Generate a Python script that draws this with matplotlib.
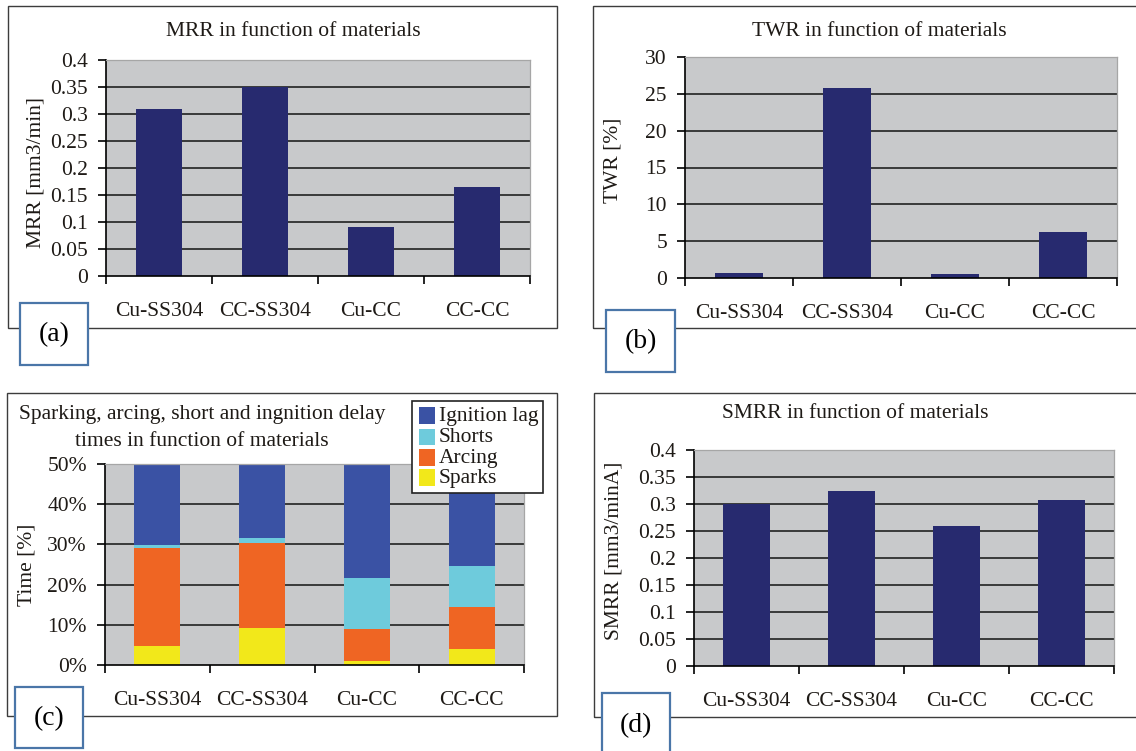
import matplotlib
matplotlib.use("Agg")
import matplotlib.pyplot as plt
from matplotlib.patches import Rectangle
from matplotlib.ticker import FuncFormatter, FixedLocator

# ---- data -------------------------------------------------------------
materials = ["Cu-SS304", "CC-SS304", "Cu-CC", "CC-CC"]

mrr = [0.31, 0.35, 0.09, 0.165]          # mm3/min
twr = [0.7, 25.8, 0.5, 6.3]              # %
smrr = [0.30, 0.325, 0.26, 0.308]        # mm3/minA

# discharge-type time shares, % of total machining time
sparks = [4.8, 9.3, 0.9, 4.0]
arcing = [24.4, 21.0, 8.1, 10.5]
shorts = [0.6, 1.3, 12.7, 10.1]
ignition_lag = [70.2, 68.4, 78.3, 75.4]

mrr_ticks = [0, 0.05, 0.1, 0.15, 0.2, 0.25, 0.3, 0.35, 0.4]
twr_ticks = [0, 5, 10, 15, 20, 25, 30]
time_ticks = [0, 10, 20, 30, 40, 50]
smrr_ticks = [0, 0.05, 0.1, 0.15, 0.2, 0.25, 0.3, 0.35, 0.4]

# ---- styling ----------------------------------------------------------
W, H = 1136, 751
plt.rcParams["font.family"] = ["Liberation Serif", "DejaVu Serif"]
TXT = "#1e1a16"
BAR = "#272a6f"
BG = "#c8c9cb"
GRID = "#2e2e2e"
C_IGN = "#3a52a4"
C_SHO = "#6ecbdc"
C_ARC = "#ef6523"
C_SPA = "#f2e81a"
LBL_EDGE = "#4a76a8"
FS = 15.5

fig = plt.figure(figsize=(W / 100, H / 100), dpi=100)
fig.patch.set_facecolor("white")


def fx(x):
    return x / W


def fy(y):
    return 1 - y / H


def add_axes_px(x0, y0, x1, y1):
    return fig.add_axes([fx(x0), fy(y1), (x1 - x0) / W, (y1 - y0) / H])


def rect_px(x0, y0, x1, y1, **kw):
    r = Rectangle((fx(x0), fy(y1)), (x1 - x0) / W, (y1 - y0) / H,
                  transform=fig.transFigure, **kw)
    fig.add_artist(r)
    return r


def frame_px(x0, y0, x1, y1):
    rect_px(x0, y0, x1, y1, fill=False, edgecolor="#3c3c3c", linewidth=1.0,
            zorder=0)


def tag_px(x0, y0, x1, y1, text):
    rect_px(x0, y0, x1, y1, facecolor="white", edgecolor=LBL_EDGE,
            linewidth=1.6, zorder=5)
    fig.text(fx((x0 + x1) / 2), fy((y0 + y1) / 2 + 1), text, ha="center",
             va="center", fontsize=20, color="black", zorder=6)


def fmt_num(v, _pos=None):
    return ("%.2f" % v).rstrip("0").rstrip(".")


def style_axes(ax, ticks, ymax, fmt):
    ax.set_facecolor(BG)
    ax.set_xlim(-0.5, len(materials) - 0.5)
    ax.set_ylim(0, ymax)
    ax.yaxis.set_major_locator(FixedLocator(ticks))
    ax.yaxis.set_major_formatter(FuncFormatter(fmt))
    ax.set_xticks(range(len(materials)))
    ax.set_xticklabels(materials)
    ax.set_xticks([i - 0.5 for i in range(len(materials) + 1)], minor=True)
    ax.tick_params(axis="x", which="major", length=0, pad=19,
                   labelsize=FS, labelcolor=TXT)
    ax.tick_params(axis="x", which="minor", length=5.5, width=1.2,
                   direction="out", color="black")
    ax.tick_params(axis="y", which="major", length=5.5, width=1.2,
                   direction="out", color="black", pad=7.5,
                   labelsize=FS, labelcolor=TXT)
    for t in ticks[1:-1]:
        ax.axhline(t, color=GRID, lw=1.3, zorder=1)
    for side in ("left", "bottom"):
        ax.spines[side].set_color("black")
        ax.spines[side].set_linewidth(1.2)
    for side in ("top", "right"):
        ax.spines[side].set_color("#a6a6a6")
        ax.spines[side].set_linewidth(0.9)


def title_px(x, y, text):
    fig.text(fx(x), fy(y), text, ha="center", va="center", fontsize=FS,
             color=TXT)


def ylabel_px(x, y, text):
    fig.text(fx(x), fy(y), text, ha="center", va="center", rotation=90,
             fontsize=FS, color=TXT)


BW = 0.44
pos = range(len(materials))

# ---- (a) MRR ---------------------------------------------------------
frame_px(8, 6, 557, 328)
ax_a = add_axes_px(106, 60, 530, 276)
style_axes(ax_a, mrr_ticks, 0.4, fmt_num)
ax_a.bar(pos, mrr, width=BW, color=BAR, zorder=2)
title_px(293, 32, "MRR in function of materials")
ylabel_px(36, 172, "MRR [mm3/min]")
tag_px(20, 303, 88, 365, "(a)")

# ---- (b) TWR ---------------------------------------------------------
frame_px(593, 6, 1140, 328)
ax_b = add_axes_px(685, 57, 1117, 278)
style_axes(ax_b, twr_ticks, 30, fmt_num)
ax_b.bar(pos, twr, width=BW, color=BAR, zorder=2)
title_px(879, 32, "TWR in function of materials")
ylabel_px(613, 160, "TWR [%]")
tag_px(606, 310, 675, 372, "(b)")

# ---- (c) discharge times -----------------------------------------------
frame_px(7, 393, 557, 716)
ax_c = add_axes_px(105, 464, 524, 665)
style_axes(ax_c, time_ticks, 50, lambda v, p=None: "%d%%" % v)
ax_c.bar(pos, sparks, width=BW, color=C_SPA, zorder=2)
base = list(sparks)
ax_c.bar(pos, arcing, width=BW, bottom=base, color=C_ARC, zorder=2)
base = [a + b for a, b in zip(base, arcing)]
ax_c.bar(pos, shorts, width=BW, bottom=base, color=C_SHO, zorder=2)
base = [a + b for a, b in zip(base, shorts)]
ax_c.bar(pos, ignition_lag, width=BW, bottom=base, color=C_IGN, zorder=2)
title_px(202, 415, "Sparking, arcing, short and ingnition delay")
title_px(202, 442, "times in function of materials")
ylabel_px(27, 565, "Time [%]")

# legend box for the stacked series
rect_px(412, 401, 543, 493, facecolor="white", edgecolor="#222222",
        linewidth=1.2, zorder=8)
legend_rows = [("Ignition lag", C_IGN, 407, 424),
               ("Shorts", C_SHO, 429, 445),
               ("Arcing", C_ARC, 449, 466),
               ("Sparks", C_SPA, 469, 486)]
for name, col, y0, y1 in legend_rows:
    rect_px(419, y0, 435, y1, facecolor=col, edgecolor="none", zorder=9)
    fig.text(fx(439), fy((y0 + y1) / 2 + 1), name, ha="left", va="center",
             fontsize=FS, color=TXT, zorder=9)
tag_px(15, 687, 83, 748, "(c)")

# ---- (d) SMRR --------------------------------------------------------
frame_px(594, 393, 1140, 717)
ax_d = add_axes_px(694, 450, 1114, 666)
style_axes(ax_d, smrr_ticks, 0.4, fmt_num)
ax_d.bar(pos, smrr, width=BW, color=BAR, zorder=2)
title_px(855, 414, "SMRR in function of materials")
ylabel_px(614, 551, "SMRR [mm3/minA]")
tag_px(602, 693, 670, 757, "(d)")

fig.savefig("out.png", dpi=100, facecolor="white")
